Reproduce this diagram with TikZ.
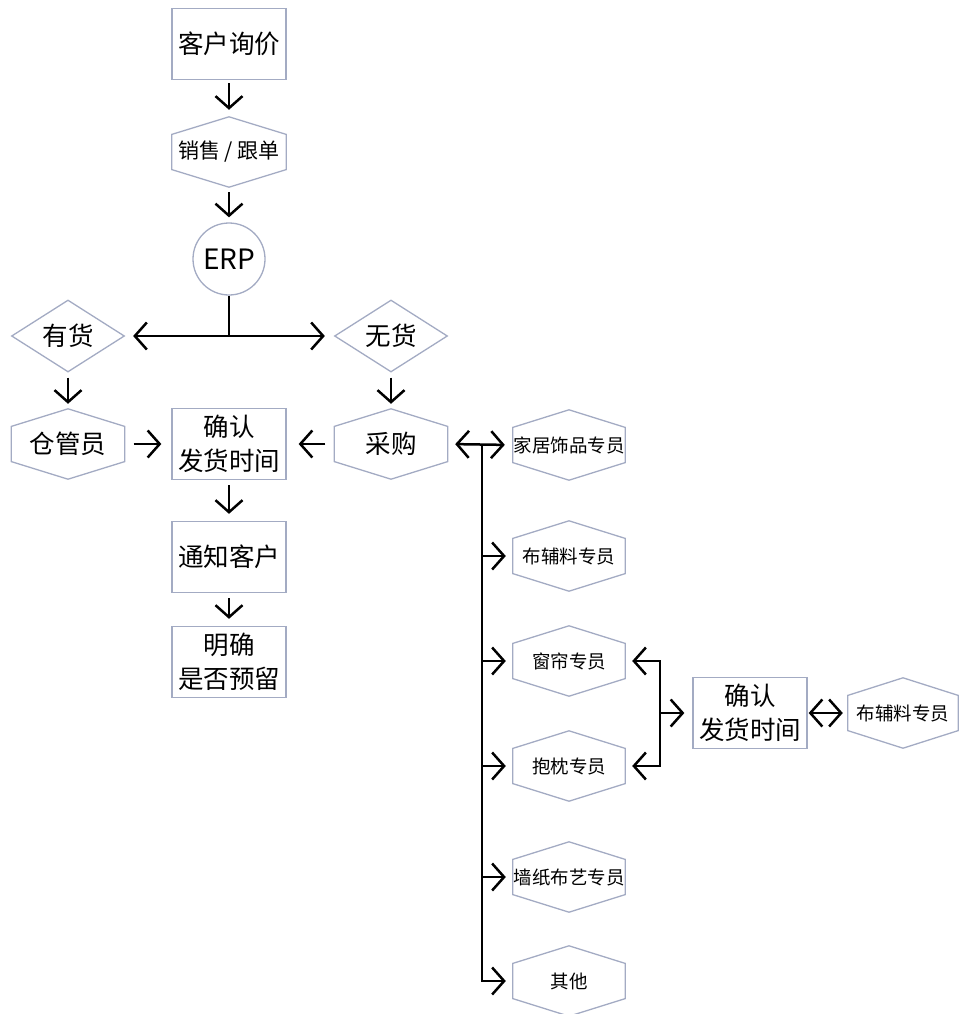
\documentclass[tikz,border=0pt]{standalone}
\usepackage{fontspec}
\setmainfont{Noto Sans CJK SC}
\usetikzlibrary{arrows.meta,shapes.geometric,calc}
\definecolor{bd}{HTML}{A3ABC3}
\newcommand\bigf{\fontsize{25.5pt}{34pt}\selectfont}
\newcommand\midf{\fontsize{21pt}{26pt}\selectfont}
\newcommand\smf{\fontsize{18.5pt}{24pt}\selectfont}
\begin{document}
\begin{tikzpicture}[x=1pt,y=-1pt,
  box/.style={draw=bd, line width=1.3pt, minimum width=114pt, minimum height=71pt, inner sep=0pt, align=center, font=\bigf},
  hexn/.style={minimum width=#1, minimum height=70pt, inner sep=0pt, align=center},
  dia/.style={diamond, draw=bd, line width=1.3pt, minimum width=113pt, minimum height=72pt, inner sep=0pt, aspect=1.57, font=\bigf},
  ln/.style={line width=2.5pt},
  arr/.style={line width=2.5pt, -{Straight Barb[length=12pt,width=27pt]}},
  darr/.style={line width=2.5pt, {Straight Barb[length=12pt,width=27pt]}-{Straight Barb[length=12pt,width=27pt]}},
  hexline/.style={draw=bd, line width=1.3pt}
]
\useasboundingbox (0,0) rectangle (958,1014);
% left column
\node[box] (kh) at (229,44) {客户询价};
\node[hexn=114pt, font=\midf] (xs) at (229,152) {销售 / 跟单};
\node[circle, draw=bd, line width=1.3pt, minimum size=72pt, inner sep=0pt, font=\fontsize{28pt}{30pt}\selectfont] (erp) at (229,259) {ERP};
\node[dia] (yh) at (68,336) {有货};
\node[dia] (wh) at (391,336) {无货};
\node[hexn=113pt, font=\bigf] (cg) at (68,444) {仓管员};
\node[box] (qr) at (229,444) {确认\\发货时间};
\node[hexn=113pt, font=\bigf] (cgo) at (391,444) {采购};
\node[box] (tz) at (229,557) {通知客户};
\node[box] (mq) at (229,662) {明确\\是否预留};
% right column
\node[hexn=112pt, font=\smf] (jj) at (569,445) {家居饰品专员};
\node[hexn=112pt, font=\smf] (bf) at (569,556) {布辅料专员};
\node[hexn=112pt, font=\smf] (cl) at (569,661) {窗帘专员};
\node[hexn=112pt, font=\smf] (bz) at (569,766) {抱枕专员};
\node[hexn=112pt, font=\smf] (qz) at (569,877) {墙纸布艺专员};
\node[hexn=112pt, font=\smf] (qt) at (569,981) {其他};
\node[box] (qr2) at (750,713) {确认\\发货时间};
\node[hexn=110pt, font=\smf] (bf2) at (903,713) {布辅料专员};
% hexagon outlines
\foreach \n in {xs,cg,cgo,jj,bf,cl,bz,qz,qt,bf2}
  \draw[hexline] (\n.north) -- ($(\n.north east)!.25!(\n.south east)$) -- ($(\n.north east)!.75!(\n.south east)$) -- (\n.south) -- ($(\n.north west)!.75!(\n.south west)$) -- ($(\n.north west)!.25!(\n.south west)$) -- cycle;
% connectors
\draw[arr, shorten <=3pt, shorten >=7pt] (kh.south) -- (xs.north);
\draw[arr, shorten <=5pt, shorten >=5pt] (xs.south) -- (erp.north);
\coordinate (sp) at (229,336);
\draw[ln] (erp.south) -- (sp);
\draw[arr, shorten >=8pt] (sp) -- (yh.east);
\draw[arr, shorten >=9pt] (sp) -- (wh.west);
\draw[arr, shorten <=5pt, shorten >=5pt] (yh.south) -- (cg.north);
\draw[arr, shorten <=5pt, shorten >=5pt] (wh.south) -- (cgo.north);
\draw[arr, shorten <=9pt, shorten >=10pt] (cg.east) -- (qr.west);
\draw[arr, shorten <=9pt, shorten >=12pt] (cgo.west) -- (qr.east);
\draw[arr, shorten <=5pt, shorten >=7pt] (qr.south) -- (tz.north);
\draw[arr, shorten <=5pt, shorten >=7pt] (tz.south) -- (mq.north);
% trunk
\draw[darr, shorten <=7.5pt, shorten >=8pt] (cgo.east) -- (jj.west);
\coordinate (tt) at (482,445);
\draw[arr, shorten >=7pt] (tt) |- (qt.west);
\draw[arr, shorten >=7pt] (tt |- bf.west) -- (bf.west);
\draw[arr, shorten >=7pt] (tt |- cl.west) -- (cl.west);
\draw[arr, shorten >=7pt] (tt |- bz.west) -- (bz.west);
\draw[arr, shorten >=7pt] (tt |- qz.west) -- (qz.west);
% bracket
\coordinate (bk) at (660,713);
\draw[arr, shorten >=8pt] (bk) -- (qr2.west);
\draw[arr, shorten >=7pt] (bk) |- (cl.east);
\draw[arr, shorten >=7pt] (bk) |- (bz.east);
\draw[darr, shorten <=1pt, shorten >=5pt] (qr2.east) -- (bf2.west);
\end{tikzpicture}
\end{document}
